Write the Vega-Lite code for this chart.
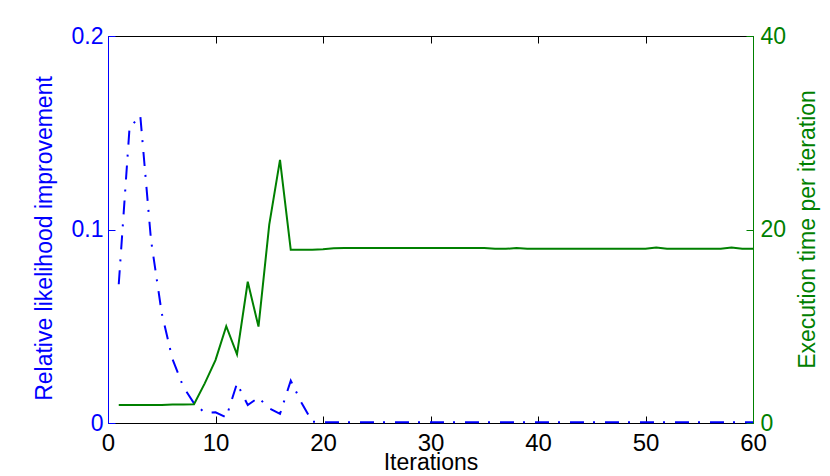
{
  "$schema": "https://vega.github.io/schema/vega-lite/v6.json",
  "width": 645,
  "height": 387,
  "autosize": {"type": "none"},
  "padding": {"left": 108, "top": 36, "right": 77, "bottom": 53},
  "background": "white",
  "config": {
    "view": {"stroke": null},
    "axis": {"grid": false, "labelFont": "Liberation Sans", "titleFont": "Liberation Sans", "titleFontWeight": "normal", "domainWidth": 1, "tickWidth": 1}
  },
  "data": {
    "values": [
      {"i": 1, "rel": 0.0717, "time": 1.85},
      {"i": 2, "rel": 0.1523, "time": 1.85},
      {"i": 3, "rel": 0.159, "time": 1.86},
      {"i": 4, "rel": 0.0946, "time": 1.87},
      {"i": 5, "rel": 0.0567, "time": 1.87},
      {"i": 6, "rel": 0.033, "time": 1.9},
      {"i": 7, "rel": 0.0188, "time": 1.9},
      {"i": 8, "rel": 0.0102, "time": 1.93},
      {"i": 9, "rel": 0.0053, "time": 4.1},
      {"i": 10, "rel": 0.0055, "time": 6.5},
      {"i": 11, "rel": 0.0029, "time": 10.0},
      {"i": 12, "rel": 0.0205, "time": 7.1},
      {"i": 13, "rel": 0.0093, "time": 14.6},
      {"i": 14, "rel": 0.0131, "time": 9.96},
      {"i": 15, "rel": 0.0076, "time": 20.5},
      {"i": 16, "rel": 0.0047, "time": 27.2},
      {"i": 17, "rel": 0.0219, "time": 17.9},
      {"i": 18, "rel": 0.0105, "time": 17.9},
      {"i": 19, "rel": 0.0007, "time": 17.9},
      {"i": 20, "rel": 0.0004, "time": 17.95},
      {"i": 21, "rel": 0.0004, "time": 18.05},
      {"i": 22, "rel": 0.0004, "time": 18.1},
      {"i": 23, "rel": 0.0004, "time": 18.1},
      {"i": 24, "rel": 0.0004, "time": 18.1},
      {"i": 25, "rel": 0.0004, "time": 18.1},
      {"i": 26, "rel": 0.0004, "time": 18.1},
      {"i": 27, "rel": 0.0004, "time": 18.1},
      {"i": 28, "rel": 0.0004, "time": 18.1},
      {"i": 29, "rel": 0.0004, "time": 18.1},
      {"i": 30, "rel": 0.0004, "time": 18.1},
      {"i": 31, "rel": 0.0004, "time": 18.1},
      {"i": 32, "rel": 0.0004, "time": 18.1},
      {"i": 33, "rel": 0.0004, "time": 18.1},
      {"i": 34, "rel": 0.0004, "time": 18.1},
      {"i": 35, "rel": 0.0004, "time": 18.1},
      {"i": 36, "rel": 0.0004, "time": 18.0},
      {"i": 37, "rel": 0.0004, "time": 18.0},
      {"i": 38, "rel": 0.0004, "time": 18.1},
      {"i": 39, "rel": 0.0004, "time": 18.0},
      {"i": 40, "rel": 0.0004, "time": 18.0},
      {"i": 41, "rel": 0.0004, "time": 18.0},
      {"i": 42, "rel": 0.0004, "time": 18.0},
      {"i": 43, "rel": 0.0004, "time": 18.0},
      {"i": 44, "rel": 0.0004, "time": 18.0},
      {"i": 45, "rel": 0.0004, "time": 18.0},
      {"i": 46, "rel": 0.0004, "time": 18.0},
      {"i": 47, "rel": 0.0004, "time": 18.0},
      {"i": 48, "rel": 0.0004, "time": 18.0},
      {"i": 49, "rel": 0.0004, "time": 18.0},
      {"i": 50, "rel": 0.0004, "time": 18.0},
      {"i": 51, "rel": 0.0004, "time": 18.15},
      {"i": 52, "rel": 0.0004, "time": 18.0},
      {"i": 53, "rel": 0.0004, "time": 18.0},
      {"i": 54, "rel": 0.0004, "time": 18.0},
      {"i": 55, "rel": 0.0004, "time": 18.0},
      {"i": 56, "rel": 0.0004, "time": 18.0},
      {"i": 57, "rel": 0.0004, "time": 18.0},
      {"i": 58, "rel": 0.0004, "time": 18.15},
      {"i": 59, "rel": 0.0004, "time": 18.0},
      {"i": 60, "rel": 0.0004, "time": 18.0}
    ]
  },
  "layer": [
    {
      "mark": {"type": "line", "color": "#0000ff", "strokeWidth": 2, "strokeDash": [14, 9, 2, 10]},
      "encoding": {
        "x": {
          "field": "i", "type": "quantitative",
          "scale": {"domain": [0, 60], "nice": false, "zero": false},
          "axis": {
            "orient": "bottom", "values": [0, 10, 20, 30, 40, 50, 60],
            "domainColor": "black", "tickColor": "black", "tickSize": -7,
            "labelColor": "black", "labelFontSize": 24, "labelPadding": 15, "labelFlush": false,
            "title": "Iterations", "titleColor": "black", "titleFontSize": 23,
            "titleY": 39, "titleBaseline": "middle"
          }
        },
        "y": {
          "field": "rel", "type": "quantitative",
          "scale": {"domain": [0, 0.2], "nice": false},
          "axis": {
            "orient": "left", "values": [0, 0.1, 0.2], "format": "~f",
            "domainColor": "#0000ff", "tickColor": "#0000ff", "tickSize": -7,
            "labelColor": "#0000ff", "labelFontSize": 23, "labelPadding": 12,
            "title": "Relative likelihood improvement", "titleColor": "#0000ff", "titleFontSize": 23,
            "titleAngle": 270, "titleX": -64, "titleY": 202, "titleBaseline": "middle", "titleAlign": "center"
          }
        }
      }
    },
    {
      "mark": {"type": "line", "color": "#008000", "strokeWidth": 2},
      "encoding": {
        "x": {
          "field": "i", "type": "quantitative",
          "axis": {
            "orient": "top", "values": [0, 10, 20, 30, 40, 50, 60],
            "domainColor": "black", "tickColor": "black", "tickSize": -7,
            "labels": false, "title": null
          }
        },
        "y": {
          "field": "time", "type": "quantitative",
          "scale": {"domain": [0, 40], "nice": false},
          "axis": {
            "orient": "right", "values": [0, 20, 40],
            "domainColor": "#008000", "tickColor": "#008000", "tickSize": -7,
            "labelColor": "#008000", "labelFontSize": 23, "labelPadding": 14,
            "title": "Execution time per iteration", "titleColor": "#008000", "titleFontSize": 23,
            "titleAngle": 270, "titleX": 54, "titleY": 193, "titleBaseline": "middle", "titleAlign": "center"
          }
        }
      }
    }
  ],
  "resolve": {"scale": {"y": "independent"}, "axis": {"x": "independent"}}
}
